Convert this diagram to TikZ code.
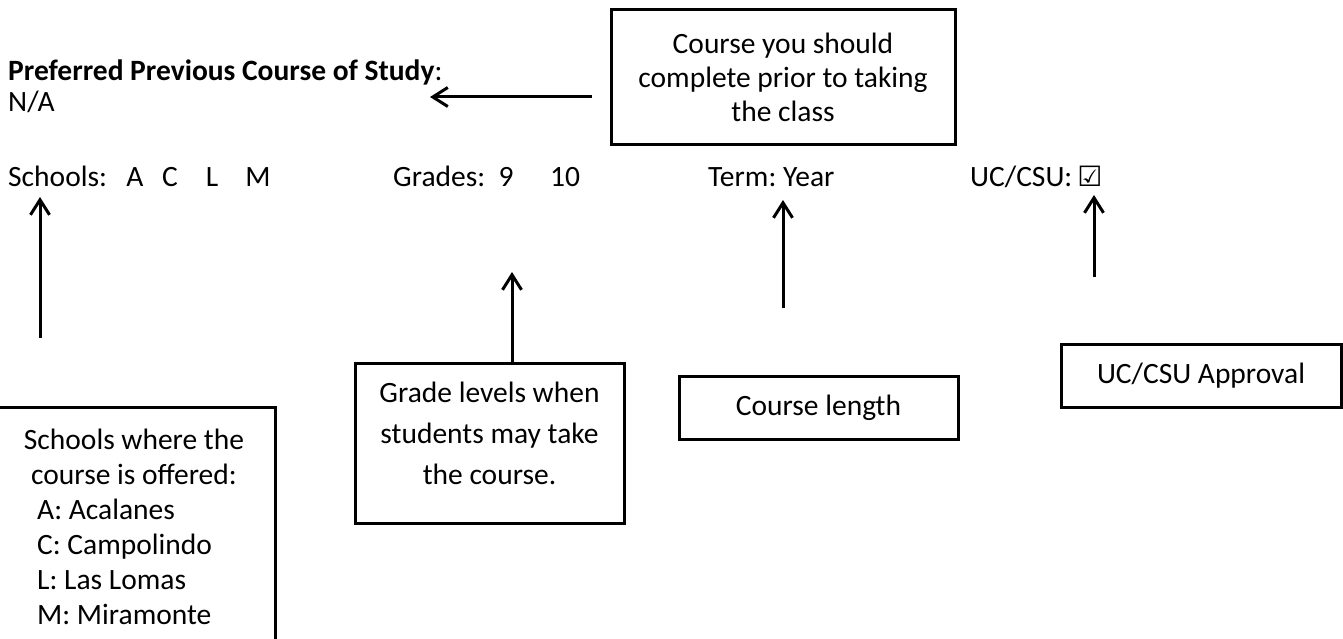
\documentclass[tikz,border=0pt]{standalone}
\usepackage{fontspec}
\setmainfont{Carlito}
\newfontfamily\symfont{DejaVu Sans}
\usetikzlibrary{arrows.meta}
\frenchspacing
\begin{document}
\begin{tikzpicture}[x=1pt,y=-1pt,
  txt/.style={inner sep=0pt, font=\fontsize{29.5}{34}\selectfont},
  boxed/.style={draw, line width=3pt, inner sep=0pt, font=\fontsize{29.5}{34}\selectfont},
  arr/.style={line width=3pt, -{Straight Barb[length=15pt,width=19pt]}}]
\useasboundingbox (0,0) rectangle (1343,639);

% header
\node[txt, anchor=base west] (pref) at (8,81) {\textbf{Preferred Previous Course of Study}:};
\node[txt, anchor=base west] (na) at (8,112) {N/A};

% top box
\node[boxed, minimum width=344pt, minimum height=135pt, align=center] (tbox) at (783,77.5)
  {Course you should\\complete prior to taking\\the class};
\coordinate (prefstart) at (592,97);
\coordinate (preftip) at (430,97);
\draw[arr] (prefstart) -- (preftip);

% row
\node[txt, anchor=base west] (schools) at (8,187) {Schools:};
\node[txt, anchor=base] (sa) at (135,187) {A};
\node[txt, anchor=base] (sc) at (170,187) {C};
\node[txt, anchor=base] (sl) at (212,187) {L};
\node[txt, anchor=base] (sm) at (258,187) {M};
\node[txt, anchor=base west] (grades) at (393,187) {Grades:};
\node[txt, anchor=base] (g9) at (506,187) {9};
\node[txt, anchor=base] (g10) at (565,187) {10};
\node[txt, anchor=base west] (term) at (708,187) {Term: Year};
\node[txt, anchor=base west] (uc) at (970,187) {UC/CSU:};
\node[txt, anchor=base, font=\symfont\fontsize{28}{30}\selectfont] (check) at (1090,187) {☑};

% arrows up
\coordinate (a1tip) at (40,197);
\coordinate (a1start) at (40,338);
\draw[arr] (a1start) -- (a1tip);

\coordinate (a2tip) at (512,272);
\coordinate (a3tip) at (783,200);
\coordinate (a3start) at (783,308);
\draw[arr] (a3start) -- (a3tip);
\coordinate (a4tip) at (1094,195);
\coordinate (a4start) at (1094,277);
\draw[arr] (a4start) -- (a4tip);

% schools box
\node[boxed, minimum width=278pt, minimum height=253pt] (sbox) at (136,533.5) {};
\node[txt, align=center, anchor=base, font=\fontsize{29.5}{35}\selectfont] (stitle) at (134,484)
  {Schools where the\\course is offered:};
\node[txt, align=left, anchor=base west, font=\fontsize{29.5}{35}\selectfont] (slist) at (37,624)
  {A: Acalanes\\C: Campolindo\\L: Las Lomas\\M: Miramonte};

% grades box
\node[boxed, minimum width=269pt, minimum height=160pt] (gbox) at (489.5,443) {};
\node[txt, align=center, anchor=base, font=\fontsize{29.5}{41}\selectfont] (gtext) at (489.5,484)
  {Grade levels when\\students may take\\the course.};
\draw[arr] (gbox.north -| a2tip) -- (a2tip);

% course length & approval
\node[boxed, minimum width=279pt, minimum height=63pt] (clbox) at (818.5,407.5) {Course length};
\node[boxed, minimum width=280pt, minimum height=63pt] (apbox) at (1201,375.5) {UC/CSU Approval};
\end{tikzpicture}
\end{document}
